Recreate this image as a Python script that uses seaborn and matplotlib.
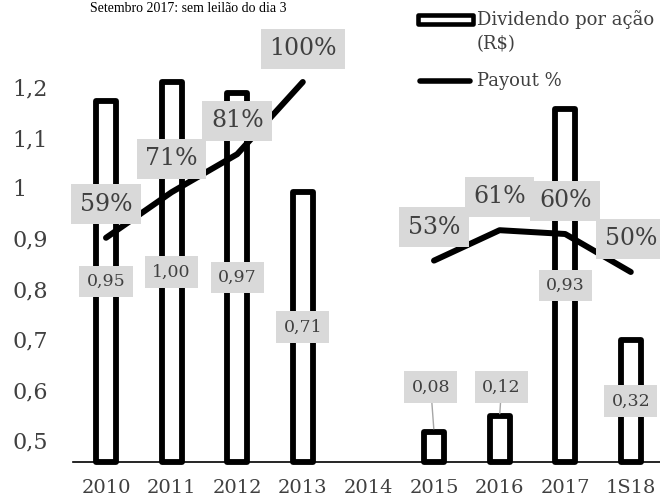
import numpy as np
import pandas as pd
import matplotlib
matplotlib.use("Agg")
import matplotlib.pyplot as plt
import seaborn as sns
from matplotlib.patches import Rectangle
from matplotlib.lines import Line2D

# ---------------- data ----------------
categories = ['2010', '2011', '2012', '2013', '2014', '2015', '2016', '2017', '1S18']
div_years = ['2010', '2011', '2012', '2013', '2015', '2016', '2017', '1S18']
dividends = [0.95, 1.00, 0.97, 0.71, 0.08, 0.12, 0.93, 0.32]
dividend_labels = ['0,95', '1,00', '0,97', '0,71', '0,08', '0,12', '0,93', '0,32']
payout = [59, 71, 81, 100, 53, 61, 60, 50]
payout_labels = ['59%', '71%', '81%', '100%', '53%', '61%', '60%', '50%']
payout_segment = [1, 1, 1, 1, 2, 2, 2, 2]
ytick_values = [0.5, 0.6, 0.7, 0.8, 0.9, 1.0, 1.1, 1.2]
ytick_labels = ['0,5', '0,6', '0,7', '0,8', '0,9', '1', '1,1', '1,2']
legend_bar = ['Dividendo por ação', '(R$)']
legend_line = 'Payout %'
title_text = 'Setembro 2017: sem leilão do dia 3'

# ---------------- layout / style ----------------
TXT = '#404040'
BOX = '#d9d9d9'
label_overrides = {'2015': (-0.05, 0.197), '2016': (0.03, 0.197)}

sns.set_style('white')
plt.rcParams['font.family'] = ['DejaVu Serif']

W, H = 660, 500
fig = plt.figure(figsize=(W / 100, H / 100), dpi=100)
ax = fig.add_axes([73.2 / W, 38 / H, 590.4 / W, 462 / H])

pos = {c: i for i, c in enumerate(categories)}
df_div = pd.DataFrame({'year': div_years, 'dividend': dividends})
df_pay = pd.DataFrame({'pos': [pos[y] for y in div_years], 'payout': payout,
                       'segment': payout_segment})

sns.barplot(data=df_div, x='year', y='dividend', order=categories, width=0.305,
            color='white', edgecolor='black', linewidth=4.2, saturation=1, ax=ax)
for p in ax.patches:
    p.set_clip_on(False)
    p.set_joinstyle('round')
    p.set_facecolor('white')

ax.set_ylim(0, 462 / 380)
ax.set_xlim(-0.5, 8.5)
ax.set_xlabel('')
ax.set_ylabel('')
ax.set_yticks([])
for s in ['top', 'right', 'left']:
    ax.spines[s].set_visible(False)
ax.spines['bottom'].set_color('black')
ax.spines['bottom'].set_linewidth(1.2)
ax.tick_params(axis='x', length=0, pad=12, labelsize=14, labelcolor=TXT)

# dividend labels
for y, v, lab in zip(div_years, dividends, dividend_labels):
    x = pos[y]
    bbox = dict(boxstyle='square,pad=0.42', fc=BOX, ec='none')
    if y in label_overrides:
        dx, ly = label_overrides[y]
        ax.annotate(lab, xy=(x, v), xytext=(x + dx, ly), textcoords='data',
                    ha='center', va='center', fontsize=12.5, color=TXT, bbox=bbox,
                    arrowprops=dict(arrowstyle='-', color='#a6a6a6', lw=1,
                                    shrinkA=0, shrinkB=2), zorder=6)
    else:
        ax.text(x, v / 2, lab, ha='center', va='center', fontsize=12.5,
                color=TXT, bbox=bbox, zorder=6)

# payout line on its own axis
ax_p = ax.twinx()
sns.lineplot(data=df_pay, x='pos', y='payout', units='segment', estimator=None,
             color='black', linewidth=4.3, legend=False, ax=ax_p)
for ln in ax_p.lines:
    ln.set_solid_capstyle('round')
    ln.set_solid_joinstyle('round')
ax_p.set_ylim(0, 46200 / 380)
ax_p.set_xlim(-0.5, 8.5)
ax_p.set_yticks([])
ax_p.set_ylabel('')
ax_p.set_xlabel('')
for s in ax_p.spines.values():
    s.set_visible(False)
for x, p, lab in zip(df_pay['pos'], payout, payout_labels):
    ax_p.annotate(lab, xy=(x, p), xytext=(0, 24), textcoords='offset points',
                  ha='center', va='center', fontsize=17, color=TXT,
                  bbox=dict(boxstyle='square,pad=0.36', fc=BOX, ec='none'), zorder=6)

# visible value axis (tick labels only)
ax_t = ax.twinx()
ax_t.set_ylim(0.5 - 22 / 504, 0.5 + 440 / 504)
ax_t.yaxis.tick_left()
ax_t.set_yticks(ytick_values, ytick_labels)
ax_t.tick_params(axis='y', length=0, pad=44, labelsize=16, labelcolor=TXT)
for t in ax_t.get_yticklabels():
    t.set_horizontalalignment('left')
for s in ax_t.spines.values():
    s.set_visible(False)

# legend (drawn manually)
fig.add_artist(Rectangle((418.5 / W, (H - 24) / H), 54.5 / W, 9 / H,
                         transform=fig.transFigure, fc='white', ec='black', lw=3.3,
                         joinstyle='round'))
fig.add_artist(Line2D([420 / W, 470 / W], [(H - 81) / H] * 2, transform=fig.transFigure,
                      color='black', lw=4, solid_capstyle='round'))
fig.text(477 / W, (H - 20) / H, legend_bar[0], ha='left', va='center', fontsize=13, color=TXT)
fig.text(477 / W, (H - 44) / H, legend_bar[1], ha='left', va='center', fontsize=13, color=TXT)
fig.text(477 / W, (H - 81) / H, legend_line, ha='left', va='center', fontsize=13, color=TXT)

# small note at the top
fig.text(90 / W, (H - 2) / H, title_text, ha='left', va='top',
         fontsize=10, family=['Liberation Serif', 'DejaVu Serif'], color='black')

fig.savefig('out.png', dpi=100)
